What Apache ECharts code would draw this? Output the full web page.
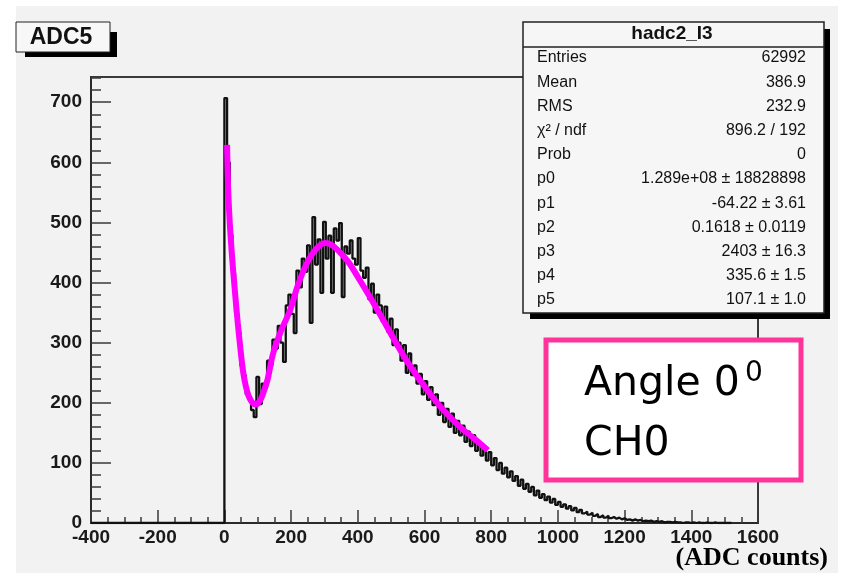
<!DOCTYPE html>
<html><head><meta charset="utf-8">
<script src="https://cdn.jsdelivr.net/npm/echarts@6/dist/echarts.min.js"></script>
<style>html,body{margin:0;padding:0;background:#fff}#c{width:843px;height:576px}</style>
</head><body><div id="c"></div>
<script>
// ---- data ----
const binWidth = 8;      // ADC units per bin (bins start at 0)
const histCounts = [
  707, 600, 480, 415, 350, 318, 262, 246, 214, 210,
  188, 176, 243, 198, 232, 226, 270, 262, 305, 290,
  328, 300, 268, 362, 380, 348, 316, 420, 392, 440,
  418, 462, 333, 509, 430, 472, 383, 501, 440, 478,
  383, 490, 470, 499, 376, 460, 448, 470, 440, 430,
  474, 420, 408, 425, 372, 398, 350, 380, 362, 335,
  360, 318, 340, 296, 322, 300, 270, 296, 250, 282,
  246, 262, 232, 248, 214, 236, 205, 226, 196, 214,
  180, 200, 168, 190, 160, 182, 150, 170, 146, 162,
  135, 152, 128, 146, 120, 134, 112, 126, 104, 118,
  96, 108, 88, 100, 82, 92, 76, 86, 70, 78,
  62, 72, 57, 65, 52, 60, 46, 54, 42, 48,
  38, 44, 34, 40, 30, 35, 27, 31, 24, 28,
  21, 25, 18, 22, 16, 19, 14, 17, 12, 15,
  10, 13, 9, 12, 8, 10, 7, 9, 6, 8,
  5, 6, 4, 6, 4, 5, 3, 4, 3, 4,
  2, 3, 2, 3, 1, 2, 2, 1, 2, 1,
  1, 0, 1, 1, 0, 1, 0, 1, 0, 0,
  1, 0, 0, 1, 0, 0, 0, 0, 0, 0
];
const fitX = [8, 11, 16, 23, 30, 40, 48, 56, 64, 72, 80, 88, 94, 100, 110, 120, 130, 146, 170, 197, 220, 248, 275, 302, 320, 340, 360, 377, 407, 446, 480, 506, 550, 607, 650, 706, 750, 790];
const fitY = [629, 560, 500, 443, 395, 333, 290, 252, 228, 212, 203, 198, 197, 199, 207, 222, 240, 282, 320, 354, 395, 433, 456, 466, 463, 454, 442, 430, 403, 367, 334, 308, 267, 222, 192, 160, 140, 121];
const xMin = -400, xMax = 1600, xStep = 200;
const yMin = 0, yMax = 742, yStep = 100;
const histTitle = 'ADC5';
const statsTitle = 'hadc2_I3';
const statsLabels = ['Entries', 'Mean', 'RMS', 'χ² / ndf', 'Prob', 'p0', 'p1', 'p2', 'p3', 'p4', 'p5'];
const statsValues = ['62992', '386.9', '232.9', '896.2 / 192', '0', '1.289e+08 ± 18828898', '-64.22 ± 3.61', '0.1618 ± 0.0119', '2403 ± 16.3', '335.6 ± 1.5', '107.1 ± 1.0'];
const noteLine1 = 'Angle 0';
const noteSup = '0';
const noteLine2 = 'CH0';
const xTitle = '(ADC counts)';

// ---- build ----
const histData = [[xMin, 0]];
histCounts.forEach((c, i) => histData.push([i * binWidth, c]));
histData.push([histCounts.length * binWidth, 0]);
const fitData = fitX.map((x, i) => [x, fitY[i]]);

const axisFont = {fontFamily: 'Liberation Sans', fontWeight: 'bold', fontSize: 19, color: '#1a1a1a', formatter: v => String(v)};
const G = [];
// background panel
G.push({type: 'rect', z: -100, shape: {x: 16, y: 6, width: 822, height: 567}, style: {fill: '#f2f2f2'}});
// title box
G.push({type: 'rect', z: 100, shape: {x: 25, y: 32, width: 92, height: 25}, style: {fill: '#000'}});
G.push({type: 'rect', z: 101, shape: {x: 16, y: 22, width: 94, height: 30}, style: {fill: '#f7f7f7', stroke: '#222', lineWidth: 1}});
G.push({type: 'text', z: 102, style: {text: histTitle, x: 61, y: 38, textAlign: 'center', textVerticalAlign: 'middle', font: 'bold 23px "Liberation Sans"', fill: '#111'}});
// stats box
G.push({type: 'rect', z: 100, shape: {x: 530, y: 29, width: 300, height: 290}, style: {fill: '#000'}});
G.push({type: 'rect', z: 101, shape: {x: 523, y: 22, width: 301, height: 291}, style: {fill: '#f6f6f6', stroke: '#222', lineWidth: 1.5}});
G.push({type: 'line', z: 102, shape: {x1: 523, y1: 47, x2: 824, y2: 47}, style: {stroke: '#222', lineWidth: 1.5}});
G.push({type: 'text', z: 102, style: {text: statsTitle, x: 672, y: 34, textAlign: 'center', textVerticalAlign: 'middle', font: 'bold 19px "Liberation Sans"', fill: '#111'}});
statsLabels.forEach((lab, i) => {
  const y = 58 + i * 24.2;
  G.push({type: 'text', z: 102, style: {text: lab, x: 537, y: y, textAlign: 'left', textVerticalAlign: 'middle', font: '16px "Liberation Sans"', fill: '#111'}});
  G.push({type: 'text', z: 102, style: {text: statsValues[i], x: 806, y: y, textAlign: 'right', textVerticalAlign: 'middle', font: '16px "Liberation Sans"', fill: '#111'}});
});
// annotation box
G.push({type: 'rect', z: 100, shape: {x: 546, y: 340, width: 255, height: 140}, style: {fill: '#ffffff', stroke: '#ff3399', lineWidth: 5}});
G.push({type: 'text', z: 101, style: {text: noteLine1, x: 584, y: 405, textAlign: 'left', textVerticalAlign: 'bottom', font: '41px "DejaVu Sans"', fill: '#000'}});
G.push({type: 'text', z: 101, style: {text: noteSup, x: 745, y: 360, textAlign: 'left', textVerticalAlign: 'top', font: '28px "DejaVu Sans"', fill: '#000'}});
G.push({type: 'text', z: 101, style: {text: noteLine2, x: 584, y: 465, textAlign: 'left', textVerticalAlign: 'bottom', font: '41px "DejaVu Sans"', fill: '#000'}});
// x title
G.push({type: 'text', z: 101, style: {text: xTitle, x: 828, y: 571, textAlign: 'right', textVerticalAlign: 'bottom', font: 'bold 26px "Liberation Serif"', fill: '#000'}});

const chart = echarts.init(document.getElementById('c'), null, {renderer: 'canvas'});
chart.setOption({
  backgroundColor: 'transparent',
  animation: false,
  grid: {left: 91, top: 77, width: 667, height: 446, show: true, borderColor: '#3a3a3a', borderWidth: 2, backgroundColor: 'transparent'},
  xAxis: {
    type: 'value', min: xMin, max: xMax, interval: xStep,
    axisLine: {show: true, onZero: false, lineStyle: {color: '#2a2a2a', width: 2}},
    axisTick: {show: true, inside: true, length: 13, lineStyle: {color: '#3a3a3a', width: 1.5}},
    minorTick: {show: true, splitNumber: 4, length: 6, lineStyle: {color: '#3a3a3a', width: 1.5}},
    splitLine: {show: false},
    axisLabel: Object.assign({margin: 5}, axisFont)
  },
  yAxis: {
    type: 'value', min: yMin, max: yMax, interval: yStep,
    axisLine: {show: true, onZero: false, lineStyle: {color: '#2a2a2a', width: 2}},
    axisTick: {show: true, inside: true, length: 20, lineStyle: {color: '#3a3a3a', width: 1.5}},
    minorTick: {show: true, splitNumber: 5, length: 10, lineStyle: {color: '#3a3a3a', width: 1.5}},
    splitLine: {show: false},
    axisLabel: Object.assign({margin: 9, showMaxLabel: false}, axisFont)
  },
  graphic: G,
  series: [
    {type: 'line', data: histData, step: 'end', showSymbol: false, symbol: 'none',
     lineStyle: {color: '#111', width: 2.3}, z: 3},
    {type: 'line', data: fitData, smooth: 0.3, showSymbol: false, symbol: 'none',
     lineStyle: {color: '#ff00ff', width: 6}, z: 4}
  ]
});
</script></body></html>
